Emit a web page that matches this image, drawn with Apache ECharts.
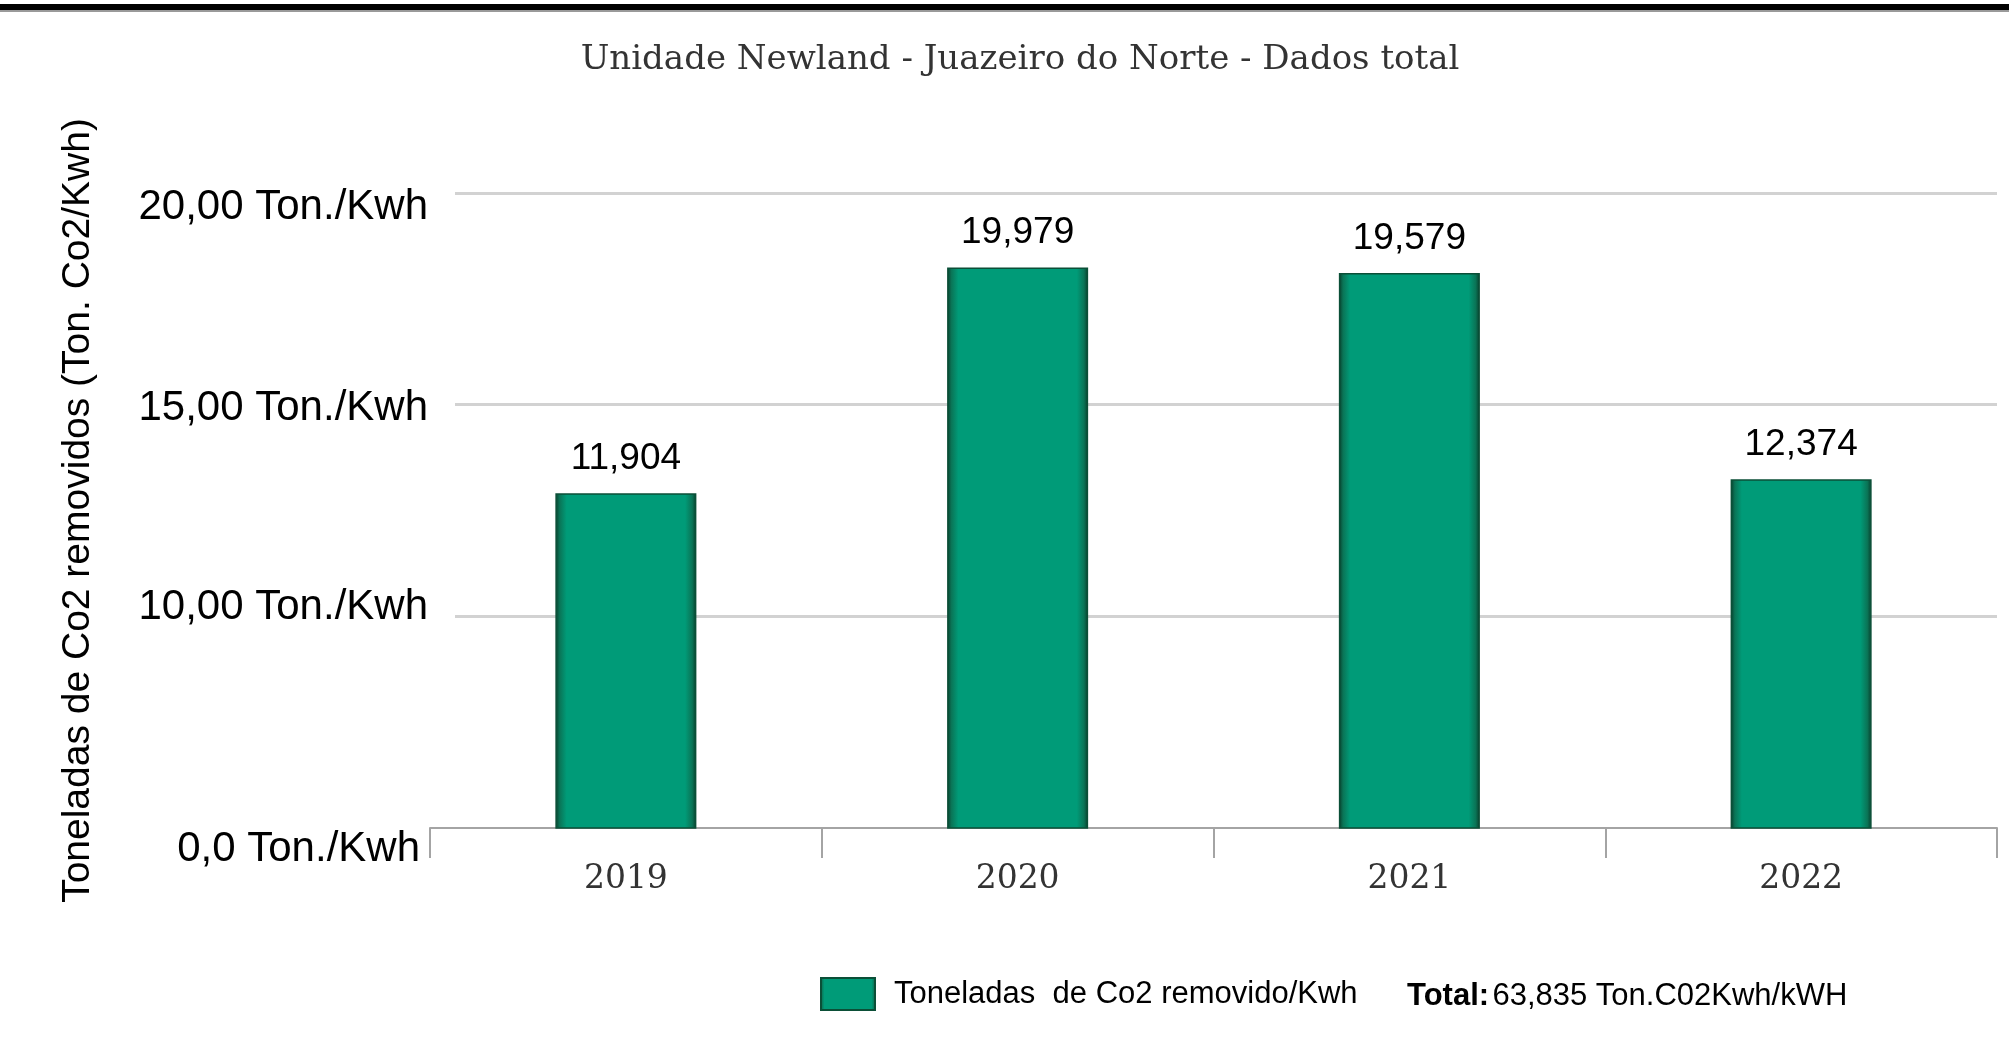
<!DOCTYPE html>
<html>
<head>
<meta charset="utf-8">
<script src="https://cdn.jsdelivr.net/npm/echarts@6/dist/echarts.min.js"></script>
<style>
  html, body { margin: 0; padding: 0; background: #ffffff; }
  #chart { width: 2009px; height: 1037px; }
</style>
</head>
<body>
<div id="chart"></div>
<script>
// ---- data ----
const chartTitle = 'Unidade Newland - Juazeiro do Norte - Dados total';
const categories = ['2019', '2020', '2021', '2022'];
// bar heights as drawn in the picture (axis units)
const barValues = [12.91, 18.24, 18.11, 13.24];
// value labels printed above the bars
const barLabels = ['11,904', '19,979', '19,579', '12,374'];
const seriesName = 'Toneladas  de Co2 removido/Kwh';
const yAxisTitle = 'Toneladas de Co2 removidos (Ton. Co2/Kwh)';
const yTickValues = [5, 10, 15, 20];
const yTickLabels = ['0,0 Ton./Kwh', '10,00 Ton./Kwh', '15,00 Ton./Kwh', '20,00 Ton./Kwh'];
const totalLabel = 'Total:';
const totalText = '63,835 Ton.C02Kwh/kWH';

// ---- chart ----
const chart = echarts.init(document.getElementById('chart'), null, { renderer: 'canvas' });

const barGradient = new echarts.graphic.LinearGradient(0, 0, 1, 0, [
  { offset: 0, color: '#083d2b' },
  { offset: 0.03, color: '#0a7456' },
  { offset: 0.08, color: '#009b78' },
  { offset: 0.92, color: '#009b78' },
  { offset: 0.97, color: '#0a7456' },
  { offset: 1, color: '#083d2b' }
]);

const tickKeys = ['t5', 't10', 't15', 't20'];
const yMin = yTickValues[0];
const yMax = yTickValues[yTickValues.length - 1];
const yStep = 5;

const option = {
  backgroundColor: '#ffffff',
  animation: false,
  title: {
    text: chartTitle,
    left: 1020,
    top: 43,
    textAlign: 'center',
    padding: 0,
    textStyle: {
      fontFamily: 'DejaVu Serif',
      fontSize: 34,
      fontWeight: 'normal',
      color: '#333333'
    }
  },
  legend: {
    data: [seriesName],
    left: 820,
    top: 977,
    padding: 0,
    itemWidth: 54,
    itemHeight: 32,
    icon: 'rect',
    textStyle: {
      fontFamily: 'Liberation Sans',
      fontSize: 31,
      color: '#000000',
      padding: [0, 0, 0, 14]
    }
  },
  grid: [
    { left: 430, right: 12, top: 193, bottom: 209, containLabel: false },
    { left: 455, right: 12, top: 193, bottom: 209, containLabel: false }
  ],
  xAxis: [
    {
      type: 'category',
      gridIndex: 0,
      data: categories,
      boundaryGap: true,
      z: 3,
      axisLine: { show: true, lineStyle: { color: '#a4a4a4', width: 2 } },
      axisTick: { show: true, length: 30, lineStyle: { color: '#a4a4a4', width: 2 } },
      axisLabel: {
        margin: 35,
        fontFamily: 'DejaVu Serif',
        fontSize: 33,
        color: '#333333'
      }
    },
    {
      type: 'value',
      gridIndex: 1,
      show: false
    }
  ],
  yAxis: [
    {
      type: 'value',
      gridIndex: 0,
      min: yMin,
      max: yMax,
      interval: yStep,
      name: yAxisTitle,
      nameLocation: 'middle',
      nameGap: 332,
      nameTextStyle: {
        fontFamily: 'Liberation Sans',
        fontSize: 39,
        color: '#000000'
      },
      axisLine: { show: false },
      axisTick: { show: false },
      splitLine: { show: false },
      axisLabel: {
        margin: 2,
        fontFamily: 'Liberation Sans',
        fontSize: 42,
        color: '#000000',
        formatter: function (v) {
          const i = yTickValues.indexOf(v);
          if (i < 0) return '';
          return '{' + tickKeys[i] + '|' + yTickLabels[i] + '}';
        },
        rich: {
          t5:  { fontFamily: 'Liberation Sans', fontSize: 42, color: '#000', padding: [42, 8, 0, 0] },
          t10: { fontFamily: 'Liberation Sans', fontSize: 42, color: '#000', padding: [0, 0, 18, 0] },
          t15: { fontFamily: 'Liberation Sans', fontSize: 42, color: '#000', padding: [8, 0, 0, 0] },
          t20: { fontFamily: 'Liberation Sans', fontSize: 42, color: '#000', padding: [28, 0, 0, 0] }
        }
      }
    },
    {
      type: 'value',
      gridIndex: 1,
      min: yMin,
      max: yMax,
      interval: yStep,
      axisLine: { show: false },
      axisTick: { show: false },
      axisLabel: { show: false },
      splitLine: { show: true, showMinLine: false, lineStyle: { color: '#d2d2d2', width: 3 } }
    }
  ],
  series: [
    {
      name: seriesName,
      type: 'bar',
      xAxisIndex: 0,
      yAxisIndex: 0,
      data: barValues,
      barWidth: '36%',
      clip: true,
      z: 4,
      itemStyle: {
        color: barGradient,
        borderColor: '#0b4f37',
        borderWidth: 1.5
      },
      label: {
        show: true,
        position: 'top',
        distance: 16,
        fontFamily: 'Liberation Sans',
        fontSize: 37,
        color: '#000000',
        formatter: function (p) { return barLabels[p.dataIndex]; }
      }
    }
  ],
  graphic: [
    {
      type: 'rect',
      left: 0,
      top: 4,
      shape: { width: 2009, height: 6 },
      style: { fill: '#000000' }
    },
    {
      type: 'rect',
      left: 0,
      top: 10,
      shape: { width: 2009, height: 2 },
      style: { fill: '#9a9a9a' }
    },
    {
      type: 'text',
      left: 1407,
      top: 981,
      style: {
        text: '{b|' + totalLabel + '} {n|' + totalText + '}',
        rich: {
          b: { fontFamily: 'Liberation Sans', fontSize: 31, fontWeight: 'bold', fill: '#000' },
          n: { fontFamily: 'Liberation Sans', fontSize: 31, fill: '#000' }
        }
      }
    }
  ]
};

chart.setOption(option);
</script>
</body>
</html>
